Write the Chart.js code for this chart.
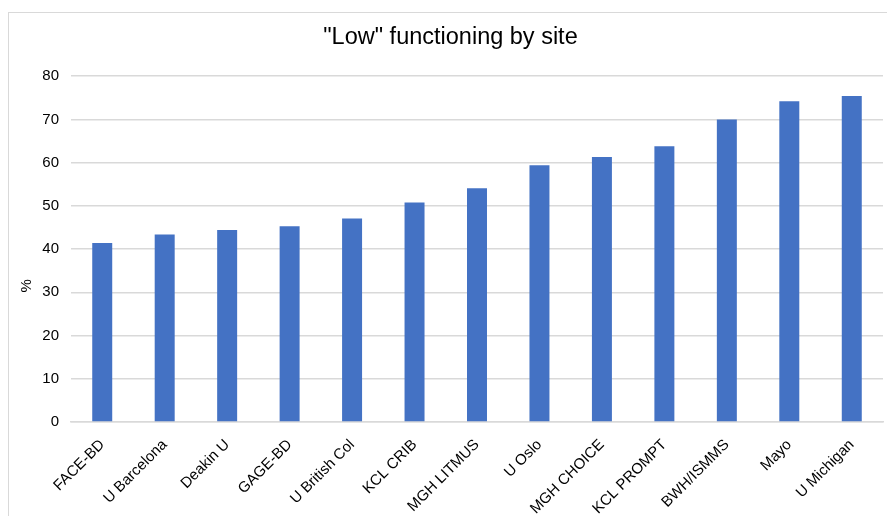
<!DOCTYPE html>
<html>
<head>
<meta charset="utf-8">
<script src="https://cdn.jsdelivr.net/npm/chart.js@4"></script>
<style>
  html, body { margin: 0; padding: 0; background: #fff; }
  #wrap { width: 887px; height: 516px; position: relative; }
</style>
</head>
<body>
<div id="wrap"><canvas id="lowChart" width="887" height="516"></canvas></div>
<script>
const sites = ["FACE-BD", "U Barcelona", "Deakin U", "GAGE-BD", "U British Col", "KCL CRIB",
  "MGH LITMUS", "U Oslo", "MGH CHOICE", "KCL PROMPT", "BWH/ISMMS", "Mayo", "U Michigan"];
const lowPct = [41.4, 43.4, 44.4, 45.3, 47.1, 50.8, 54.1, 59.4, 61.3, 63.8, 70.0, 74.2, 75.4];
const yTitle = "%";

// light frame around the chart + the "%" axis label (sits a bit low in the original)
const framePlugin = {
  id: "frame",
  beforeDraw(chart) {
    const ctx = chart.ctx;
    ctx.save();
    ctx.fillStyle = "#fff";
    ctx.fillRect(0, 0, chart.width, chart.height);
    ctx.strokeStyle = "#d9d9d9";
    ctx.lineWidth = 1;
    ctx.strokeRect(8.5, 12.5, chart.width, chart.height);
    ctx.restore();
  },
  afterDraw(chart) {
    const ctx = chart.ctx;
    const y = chart.scales.y;
    ctx.save();
    ctx.translate(27, y.getPixelForValue(31.5));
    ctx.rotate(-Math.PI / 2);
    ctx.fillStyle = "#000";
    ctx.font = "15px 'Liberation Sans', Arial, sans-serif";
    ctx.textAlign = "center";
    ctx.textBaseline = "middle";
    ctx.fillText(yTitle, 0, 0);
    ctx.restore();
  }
};

Chart.defaults.font.family = "'Liberation Sans', Arial, sans-serif";
Chart.defaults.color = "#000";

const ctx = document.getElementById("lowChart").getContext("2d");
new Chart(ctx, {
  type: "bar",
  data: {
    labels: sites,
    datasets: [{
      label: "Low functioning",
      data: lowPct,
      backgroundColor: "#4472C4",
      barPercentage: 0.64,
      categoryPercentage: 0.5
    }]
  },
  options: {
    responsive: false,
    animation: false,
    layout: { padding: { top: 23, left: 18, right: 4, bottom: 0 } },
    plugins: {
      legend: { display: false },
      tooltip: { enabled: false },
      title: {
        display: true,
        text: '"Low" functioning by site',
        color: "#000",
        font: { size: 23.5, weight: "normal" },
        padding: { top: 0, bottom: 25 }
      }
    },
    scales: {
      y: {
        min: 0,
        max: 80,
        ticks: { stepSize: 10, font: { size: 15 }, color: "#000", padding: 12 },
        grid: { color: "#d9d9d9", lineWidth: 1.5, drawTicks: false },
        border: { display: false },
        afterFit(scale) { scale.width = 53; }
      },
      x: {
        ticks: { font: { size: 15 }, color: "#000", minRotation: 45, maxRotation: 45, padding: 6 },
        grid: { display: false },
        border: { color: "#d9d9d9", width: 1.5 },
        afterFit(scale) { scale.height = 94; }
      }
    }
  },
  plugins: [framePlugin]
});
</script>
</body>
</html>
